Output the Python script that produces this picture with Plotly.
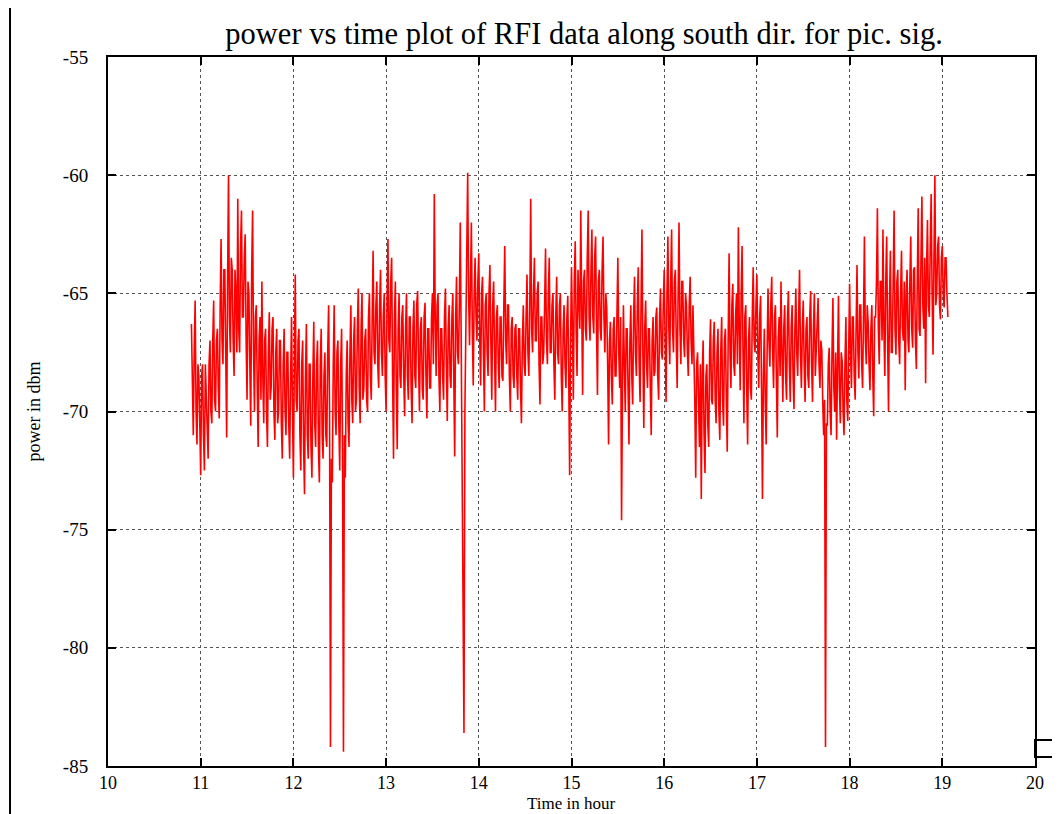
import numpy as np
import plotly.graph_objects as go

# sampling grid (hours)
t_start = 10.90
t_step = 0.01

# power readings (dBm) at even samples (10.90, 10.92, ... h)
power_dbm = [
    -66.3, -71.0, -65.3, -71.4, -68.5,
    -72.7, -68.0, -72.5, -69.5, -72.0, -67.0, -70.5, -65.3, -70.0, -66.5,
    -70.3, -62.7, -68.0, -64.0, -71.1, -60.0, -67.5, -64.0, -68.5, -65.0,
    -61.0, -67.5, -61.5, -66.0, -62.5, -69.5, -65.0, -70.6, -61.5, -70.0,
    -65.5, -71.5, -66.0, -64.5, -70.5, -66.5, -71.5, -65.8, -69.0, -66.0,
    -71.2, -66.5, -70.0, -67.0, -72.0, -66.5, -71.0, -67.5, -72.0, -66.0,
    -72.8, -64.2, -70.0, -66.5, -72.5, -67.0, -73.5, -66.3, -72.0, -68.0,
    -72.8, -66.2, -71.5, -67.0, -73.0, -66.5, -72.0, -67.5, -71.5, -65.5,
    -84.2, -73.0, -65.5, -71.0, -67.0, -72.5, -66.5, -84.4, -72.8, -67.0,
    -71.5, -65.5, -70.5, -66.0, -69.5, -64.8, -70.5, -65.0, -69.0, -66.5,
    -70.0, -65.0, -69.5, -63.2, -68.0, -64.5, -69.0, -64.0, -68.5, -65.0,
    -70.0, -62.7, -67.5, -63.5, -72.0, -64.5, -71.6, -65.0, -69.0, -65.5,
    -70.2, -65.0, -69.5, -66.0, -70.5, -65.3, -69.0, -64.9, -70.0, -66.0,
    -69.5, -65.4, -70.3, -66.5, -69.0, -65.0, -60.8, -68.5, -65.0, -70.0,
    -66.5, -69.5, -64.8, -70.4, -65.5, -69.0, -65.0, -71.9, -64.3, -68.0,
    -62.0, -73.0, -83.6, -66.0, -59.9, -67.2, -62.0, -68.9, -63.5, -67.0,
    -63.3, -68.9, -64.3, -70.0, -65.0, -68.5, -63.8, -69.5, -64.5, -70.0,
    -65.5, -69.0, -66.0, -68.7, -63.0, -68.0, -65.5, -70.0, -66.0, -69.0,
    -66.3, -69.5, -66.5, -70.5, -65.5, -68.5, -64.2, -68.5, -61.0, -67.5,
    -63.5, -67.0, -64.5, -69.7, -66.0, -67.5, -63.1, -68.0, -63.5, -67.5,
    -65.0, -69.5, -64.3, -68.0, -65.0, -70.0, -65.5, -69.0, -65.1, -72.7,
    -63.9, -69.5, -62.8, -68.5, -65.0, -61.5, -69.3, -64.0, -67.0, -61.5,
    -67.0, -62.3, -66.7, -62.6, -69.3, -64.0, -67.0, -62.6, -67.5, -65.6,
    -71.4, -66.2, -69.7, -66.0, -68.5, -63.5, -69.0, -74.6, -65.5, -70.0,
    -66.5, -71.4, -65.5, -69.7, -64.3, -68.5, -63.9, -69.6, -62.3, -70.7,
    -65.3, -69.0, -66.5, -71.0, -66.0, -68.3, -65.6, -69.5, -64.8, -67.8,
    -64.0, -69.6, -62.6, -68.0, -62.3, -67.5, -64.0, -69.0, -62.0, -68.0,
    -64.5, -67.7, -65.5, -68.5, -64.3, -68.0, -67.0, -72.8, -67.5, -71.5,
    -73.7, -67.0, -72.6, -68.0, -71.5, -66.1, -69.7, -66.2, -70.5, -66.5,
    -71.2, -66.0, -70.6, -66.5, -71.7, -63.3, -69.0, -64.6, -68.5, -65.0,
    -62.2, -69.1, -63.0, -70.5, -65.5, -71.4, -66.0, -69.5, -63.9, -67.5,
    -64.2, -69.0, -65.1, -73.7, -66.5, -71.4, -64.8, -68.1, -64.3, -69.0,
    -65.5, -71.1, -66.0, -64.5, -69.6, -65.5, -69.5, -64.9, -69.6, -65.5,
    -69.9, -64.8, -68.5, -64.0, -69.0, -65.3, -69.6, -66.0, -69.0, -64.9,
    -69.6, -65.0, -67.5, -65.2, -69.0, -67.4, -71.0, -84.2, -70.6, -67.3,
    -71.0, -65.2, -70.0, -71.2, -65.1, -70.5, -67.9, -71.0, -66.0, -70.4,
    -64.6, -69.0, -66.0, -69.5, -63.8, -68.6, -65.5, -69.0, -62.6, -68.0,
    -66.2, -69.1, -65.5, -70.2, -66.0, -61.4, -68.0, -64.5, -62.3, -68.5,
    -62.6, -70.0, -63.2, -67.5, -61.5, -67.6, -64.0, -68.0, -63.2, -67.0,
    -69.1, -64.0, -67.5, -62.6, -67.3, -63.9, -68.2, -61.4, -66.8, -60.9,
    -66.5, -68.8, -61.9, -66.0, -60.8, -67.6, -60.0, -65.0, -62.6, -66.1,
    -63.0, -65.6, -63.5, -66.0,
]

# power readings (dBm) at odd samples (10.91, 10.93, ... h)
power_dbm_odd = [
    -69.5, -67.5, -70.0, -68.0, -70.5,
    -68.5, -71.0, -68.0, -71.5, -68.0, -70.0, -67.0, -69.5, -67.0, -69.0,
    -65.5, -67.0, -64.0, -67.5, -64.5, -66.0, -63.5, -67.0, -64.0, -67.5,
    -66.5, -63.0, -66.0, -63.5, -67.0, -64.5, -68.0, -64.0, -67.5, -66.0,
    -69.0, -67.0, -69.5, -68.5, -67.0, -70.0, -67.5, -69.5, -66.5, -70.0,
    -67.5, -70.5, -67.0, -70.5, -68.0, -70.0, -67.5, -70.5, -68.5, -70.0,
    -68.0, -69.5, -67.0, -71.0, -68.0, -71.5, -68.5, -71.0, -68.0, -71.5,
    -68.5, -70.5, -68.0, -71.5, -68.0, -71.0, -68.5, -71.0, -67.5, -70.0,
    -72.0, -68.0, -70.0, -67.5, -70.5, -68.0, -71.5, -71.0, -68.5, -70.5,
    -67.5, -69.5, -67.0, -70.0, -66.5, -69.0, -66.5, -69.5, -67.0, -69.5,
    -66.0, -68.5, -66.0, -67.5, -65.5, -68.0, -65.5, -67.5, -66.0, -68.5,
    -65.5, -67.0, -64.5, -68.5, -66.0, -69.0, -66.5, -68.5, -66.0, -68.5,
    -66.5, -68.5, -66.0, -69.0, -66.5, -68.5, -65.5, -68.0, -66.5, -69.0,
    -66.0, -68.5, -66.5, -69.0, -66.0, -68.0, -66.0, -65.5, -68.5, -66.5,
    -68.5, -66.0, -68.0, -66.5, -68.5, -66.0, -68.5, -66.0, -67.5, -65.5,
    -67.0, -75.0, -70.0, -64.0, -65.0, -64.5, -66.5, -65.0, -66.0, -64.5,
    -67.0, -65.0, -67.5, -65.5, -67.5, -65.0, -67.0, -65.5, -67.5, -66.0,
    -68.0, -66.0, -68.5, -65.5, -67.0, -65.5, -68.5, -66.5, -68.5, -66.5,
    -68.5, -66.5, -69.0, -67.0, -68.0, -66.0, -67.5, -65.5, -66.5, -65.0,
    -67.0, -65.0, -68.0, -66.0, -68.0, -65.5, -67.0, -65.0, -67.5, -65.5,
    -68.0, -66.0, -67.5, -65.5, -68.5, -66.5, -68.0, -66.0, -68.5, -67.0,
    -66.5, -64.5, -66.5, -64.0, -66.5, -65.5, -64.5, -66.5, -63.5, -66.0,
    -64.0, -66.0, -63.5, -66.5, -64.5, -66.5, -64.0, -66.0, -65.0, -68.0,
    -67.0, -68.5, -66.5, -68.5, -66.0, -67.5, -66.0, -69.0, -68.0, -66.5,
    -69.0, -67.0, -68.5, -66.0, -67.5, -65.5, -68.0, -65.5, -67.5, -66.5,
    -68.0, -66.5, -69.0, -67.0, -68.5, -66.0, -68.5, -66.0, -67.5, -65.5,
    -67.0, -65.0, -66.5, -64.5, -66.5, -64.5, -67.0, -65.0, -66.5, -64.5,
    -67.0, -65.0, -67.5, -65.5, -67.0, -65.5, -69.5, -68.0, -70.5, -68.0,
    -68.5, -71.0, -68.5, -70.5, -67.5, -69.5, -67.0, -69.5, -67.5, -70.0,
    -67.5, -69.5, -67.0, -69.5, -67.0, -67.5, -65.5, -68.0, -66.0, -68.0,
    -66.5, -65.0, -67.5, -66.0, -69.0, -67.0, -69.0, -66.0, -67.0, -65.5,
    -67.5, -66.0, -69.0, -68.5, -69.5, -67.5, -67.0, -65.5, -67.5, -66.0,
    -68.5, -67.0, -68.5, -67.5, -66.5, -68.5, -66.0, -68.0, -66.5, -68.5,
    -66.5, -67.5, -66.0, -67.5, -66.5, -68.0, -66.5, -68.5, -66.0, -68.0,
    -66.5, -68.5, -66.0, -68.0, -67.0, -69.5, -69.5, -70.5, -68.0, -70.0,
    -67.5, -69.0, -67.5, -68.0, -69.0, -67.5, -70.0, -68.0, -69.5, -67.5,
    -67.5, -66.0, -68.5, -66.5, -67.5, -65.5, -68.0, -66.0, -67.0, -65.5,
    -68.0, -66.5, -68.5, -66.0, -64.5, -66.5, -64.5, -67.0, -66.5, -64.5,
    -67.0, -65.5, -67.5, -64.5, -66.5, -64.5, -67.0, -65.0, -66.5, -64.5,
    -65.0, -67.0, -64.5, -66.5, -64.0, -67.0, -64.5, -66.5, -63.5, -65.5,
    -63.5, -64.0, -65.5, -63.0, -65.0, -63.5, -65.5, -63.0, -65.5, -63.5,
    -65.0, -63.5, -65.0,
]

n_all = len(power_dbm) + len(power_dbm_odd)
power_all = np.empty(n_all)
power_all[0::2] = power_dbm
power_all[1::2] = power_dbm_odd
time_hr = np.round(t_start + t_step * np.arange(n_all), 4)

x_ticks = [10, 11, 12, 13, 14, 15, 16, 17, 18, 19, 20]
y_ticks = [-85, -80, -75, -70, -65, -60, -55]
y_tick_labels = ["-85", "-80", "-75", "-70", "-65", "-60", "-55"]

title_text = "power vs time plot of RFI data along south dir. for pic. sig."
x_title = "Time in hour"
y_title = "power in dbm"

serif = "Liberation Serif, Times New Roman, serif"

fig = go.Figure()
fig.add_trace(go.Scatter(
    x=time_hr, y=power_all, mode="lines",
    line=dict(color="#ff0000", width=1.6),
    showlegend=False, hoverinfo="skip",
))

axis_common = dict(
    showline=True, linecolor="black", linewidth=2, mirror="ticks",
    ticks="inside", ticklen=8, tickwidth=2, tickcolor="black",
    showgrid=True, gridcolor="#555555", gridwidth=1, griddash="dot",
    zeroline=False, automargin=False,
)

fig.update_xaxes(range=[10, 20], tickvals=x_ticks, ticklabelstandoff=-1,
                 tickfont=dict(family=serif, size=18, color="black"), **axis_common)
fig.update_yaxes(
    range=[-85, -55], tickvals=y_ticks, ticktext=y_tick_labels,
    ticklabelstandoff=14,
    tickfont=dict(family=serif, size=19, color="black"),
    title=dict(text=y_title, font=dict(family=serif, size=18, color="black"), standoff=18),
    **axis_common,
)

# page body adds an 8px offset; margins compensate so the plot sits at x 108-1035, y 57-766
fig.update_layout(
    width=1052, height=806,
    margin=dict(l=100, r=25, t=49, b=48, autoexpand=False),
    paper_bgcolor="white", plot_bgcolor="white",
    title=dict(text=title_text, x=0.5476, xanchor="center", y=0.968, yanchor="middle",
               font=dict(family=serif, size=30.5, color="black")),
    annotations=[
        dict(text=x_title, xref="paper", yref="paper", x=0.5, y=-0.0677,
             xanchor="center", yanchor="bottom", showarrow=False, borderpad=0,
             font=dict(family=serif, size=17, color="black")),
    ],
    shapes=[
        dict(type="line", xref="paper", yref="paper", x0=-0.1057, x1=-0.1057,
             y0=-0.07, y1=1.09, line=dict(color="black", width=2)),
        dict(type="rect", xref="paper", yref="paper", x0=1.0, x1=1.04,
             y0=0.0127, y1=0.0367, line=dict(color="black", width=2)),
    ],
)

fig.write_html("out.html")
